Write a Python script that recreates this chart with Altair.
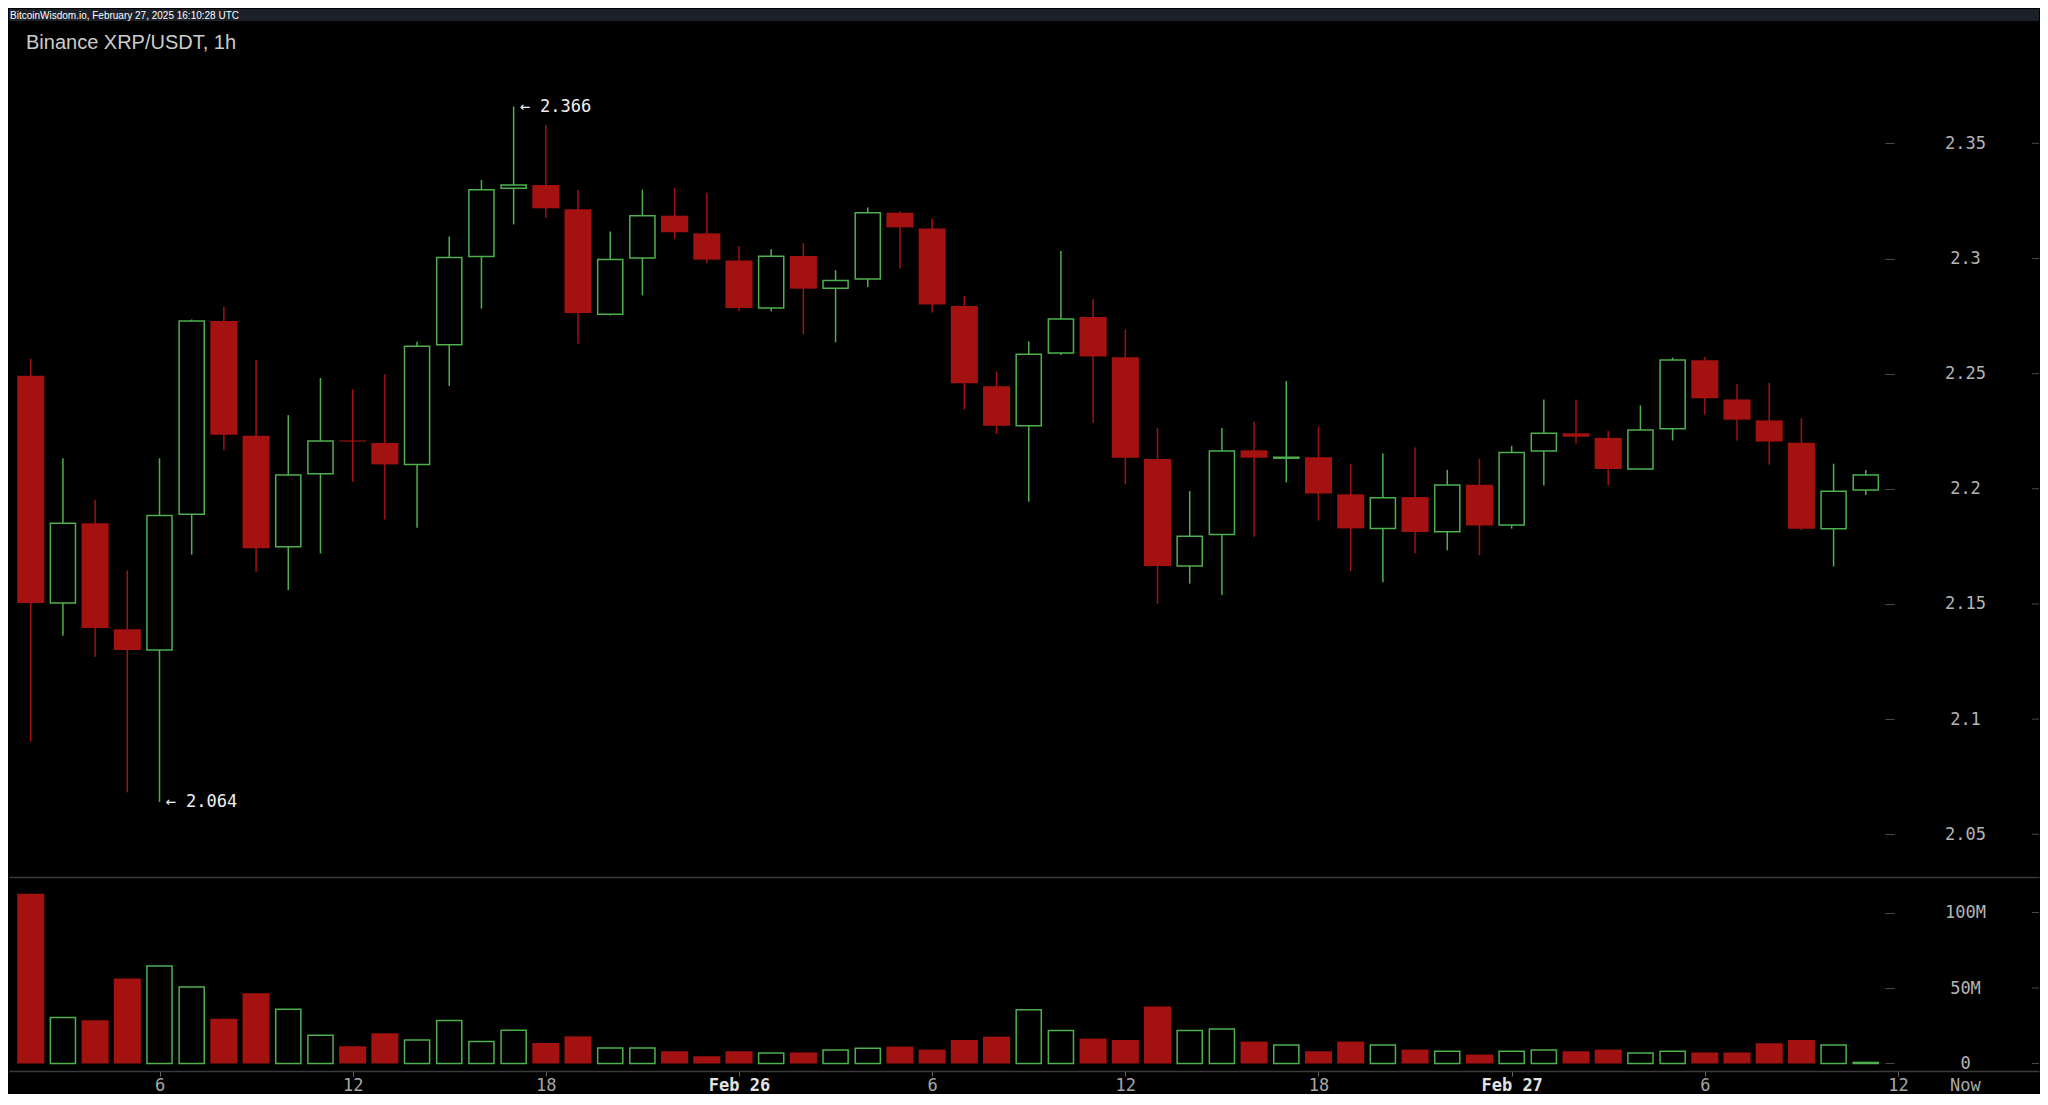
import altair as alt
import pandas as pd

# ---------------- data ----------------
# hour index counted from Feb 25 00:00, one candle per hour
hours = list(range(2, 60))

opens = [2.2491, 2.1504, 2.1850, 2.1390, 2.1300, 2.1889, 2.2729, 2.2230, 2.1748, 2.2065,
         2.2210, 2.2199, 2.2106, 2.2626, 2.3009, 2.3305, 2.3319, 2.3214, 2.2758, 2.3002,
         2.3186, 2.3109, 2.2991, 2.2785, 2.3011, 2.2871, 2.2911, 2.3199, 2.3130, 2.2794,
         2.2445, 2.2274, 2.2590, 2.2746, 2.2571, 2.2129, 2.1665, 2.1801, 2.2167, 2.2133,
         2.2137, 2.1976, 2.1828, 2.1964, 2.1814, 2.2018, 2.1843, 2.2164, 2.2241, 2.2221,
         2.2086, 2.2261, 2.2558, 2.2388, 2.2297, 2.2200, 2.1827, 2.1995]
highs = [2.2564, 2.2133, 2.1952, 2.1646, 2.2133, 2.2735, 2.2791, 2.2559, 2.2320, 2.2481,
         2.2432, 2.2497, 2.2639, 2.3096, 2.3341, 2.3660, 2.3579, 2.3298, 2.3117, 2.3299,
         2.3306, 2.3285, 2.3053, 2.3040, 2.3067, 2.2949, 2.3221, 2.3206, 2.3173, 2.2837,
         2.2509, 2.2640, 2.3033, 2.2823, 2.2691, 2.2263, 2.1990, 2.2264, 2.2292, 2.2468,
         2.2270, 2.2109, 2.2153, 2.2179, 2.2082, 2.2131, 2.2187, 2.2388, 2.2388, 2.2251,
         2.2362, 2.2570, 2.2572, 2.2454, 2.2459, 2.2307, 2.2109, 2.2082]
lows = [2.0903, 2.1362, 2.1271, 2.0682, 2.0640, 2.1714, 2.2167, 2.1640, 2.1560, 2.1719,
        2.2030, 2.1867, 2.1831, 2.2446, 2.2782, 2.3148, 2.3177, 2.2630, 2.2752, 2.2840,
        2.3086, 2.2979, 2.2771, 2.2771, 2.2672, 2.2636, 2.2876, 2.2957, 2.2765, 2.2344,
        2.2238, 2.1944, 2.2581, 2.2287, 2.2019, 2.1501, 2.1588, 2.1539, 2.1792, 2.2028,
        2.1862, 2.1643, 2.1594, 2.1720, 2.1733, 2.1712, 2.1827, 2.2014, 2.2197, 2.2015,
        2.2084, 2.2210, 2.2323, 2.2210, 2.2105, 2.1820, 2.1663, 2.1973]
closes = [2.1504, 2.1850, 2.1396, 2.1300, 2.1884, 2.2729, 2.2235, 2.1742, 2.2060, 2.2207,
          2.2205, 2.2106, 2.2619, 2.3004, 2.3298, 2.3319, 2.3218, 2.2763, 2.2996, 2.3186,
          2.3114, 2.2995, 2.2785, 2.3010, 2.2869, 2.2905, 2.3199, 2.3135, 2.2800, 2.2458,
          2.2274, 2.2584, 2.2737, 2.2575, 2.2135, 2.1665, 2.1794, 2.2164, 2.2135, 2.2137,
          2.1980, 2.1828, 2.1961, 2.1812, 2.2016, 2.1841, 2.2158, 2.2241, 2.2226, 2.2086,
          2.2255, 2.2559, 2.2393, 2.2300, 2.2205, 2.1827, 2.1989, 2.2060]
volumes_m = [112.4, 30.4, 28.6, 56.3, 64.5, 50.6, 29.7, 46.6, 35.9, 18.7,
             11.4, 20.0, 15.6, 28.4, 14.5, 22.0, 13.6, 18.0, 10.3, 10.3,
             8.1, 4.8, 8.1, 7.0, 7.3, 9.0, 10.1, 11.2, 9.2, 15.6,
             17.8, 35.6, 21.8, 16.5, 15.6, 37.8, 21.8, 22.9, 14.5, 12.3,
             8.1, 14.5, 12.3, 9.2, 8.1, 5.9, 8.1, 9.0, 8.1, 9.2,
             7.0, 8.1, 7.3, 7.3, 13.4, 15.6, 12.3, 0.7]

price_ticks = [2.05, 2.1, 2.15, 2.2, 2.25, 2.3, 2.35]
volume_ticks = [0, 50e6, 100e6]
x_tick_hours = [6, 12, 18, 24, 30, 36, 42, 48, 54, 60]
now_hour = 62.08

HEADER = "BitcoinWisdom.io, February 27, 2025 16:10:28 UTC"
TITLE = "Binance XRP/USDT, 1h"

# ---------------- styling ----------------
RED = "#a31111"
GREEN = "#4db04d"
LABEL = "#b4b4b4"
TICK = "#4a4a4a"
SEP = "#3a3a3a"
MONO = "DejaVu Sans Mono"

W = 2030
PH = 868
VH = 192
PX_PER_HOUR = 32.194
X0 = 1.3252

df = pd.DataFrame({"h": hours, "open": opens, "high": highs, "low": lows,
                   "close": closes, "volume": [v * 1e6 for v in volumes_m]})
df["dir"] = ["up" if c >= o else "down" for o, c in zip(df["open"], df["close"])]
df["top"] = df[["open", "close"]].max(axis=1)
df["bot"] = df[["open", "close"]].min(axis=1)
df["zero"] = 0.0

x_scale = alt.Scale(domain=[X0, X0 + W / PX_PER_HOUR], nice=False, zero=False)
price_scale = alt.Scale(domain=[2.03143, 2.40834], nice=False, zero=False)
vol_scale = alt.Scale(domain=[-4.97e6, 122.19e6], nice=False, zero=False)

y_axis_common = dict(orient="right", offset=1876 - W, tickSize=9, tickColor=TICK,
                     tickWidth=1, labelPadding=71, labelAlign="center",
                     labelBaseline="middle", labelFont=MONO, labelFontSize=17,
                     labelColor=LABEL, domain=False, grid=False, title=None)
price_y_axis = alt.Axis(values=price_ticks, format=".3~f", **y_axis_common)
vol_y_axis = alt.Axis(values=volume_ticks,
                      labelExpr="datum.value == 0 ? '0' : format(datum.value / 1e6, 'd') + 'M'",
                      **y_axis_common)

price_x_axis = alt.Axis(labels=False, ticks=False, domain=True, domainColor=SEP,
                        domainWidth=1.5, grid=False, title=None)
is_day = "datum.value == 24 || datum.value == 48"
vol_x_axis = alt.Axis(
    values=x_tick_hours + [now_hour],
    labelExpr="datum.value > 61 ? 'Now' : (datum.value == 24 ? 'Feb 26' : "
              "(datum.value == 48 ? 'Feb 27' : toString(datum.value % 24)))",
    tickSize=5, tickColor={"condition": {"test": "datum.value > 61", "value": "transparent"},
                           "value": "#666666"},
    labelPadding=1, labelFont=MONO, labelFontSize=17,
    labelColor={"condition": {"test": is_day, "value": "#e2e2e2"}, "value": "#a8a8a8"},
    labelFontWeight={"condition": {"test": is_day, "value": "bold"}, "value": "normal"},
    labelFlush=False, labelOverlap=False, domainColor=SEP, domainWidth=1.5,
    grid=False, title=None)

base = alt.Chart(df)
one = pd.DataFrame({"t": [HEADER], "title": [TITLE]})

# ---------------- price panel ----------------
strip = alt.Chart(one).mark_rect(color="#1c2029").encode(
    x=alt.value(0), x2=alt.value(W), y=alt.value(0), y2=alt.value(12))
header = alt.Chart(one).mark_text(align="left", baseline="alphabetic", font="Liberation Sans",
                                  fontSize=10, color="#ffffff").encode(
    x=alt.value(1), y=alt.value(9.5), text="t:N")
title = alt.Chart(one).mark_text(align="left", baseline="alphabetic", font="Liberation Sans",
                                 fontSize=20, color="#cccccc").encode(
    x=alt.value(17), y=alt.value(40), text="title:N")

wicks = base.mark_rule(strokeWidth=1.5).encode(
    x=alt.X("h:Q", scale=x_scale, axis=price_x_axis),
    y=alt.Y("low:Q", scale=price_scale, axis=price_y_axis),
    y2="high:Q",
    color=alt.Color("dir:N", scale=alt.Scale(domain=["up", "down"], range=[GREEN, RED]),
                    legend=None))

down_bodies = base.transform_filter("datum.dir == 'down'").transform_calculate(
    x1="datum.h - 0.42", x2="datum.h + 0.42").mark_rect(color=RED).encode(
    x=alt.X("x1:Q", scale=x_scale, axis=price_x_axis),
    x2="x2:Q",
    y=alt.Y("top:Q", scale=price_scale, axis=price_y_axis),
    y2="bot:Q")

up_bodies = base.transform_filter("datum.dir == 'up'").transform_calculate(
    x1="datum.h - 0.39", x2="datum.h + 0.39").mark_rect(
    fill="#000000", stroke=GREEN, strokeWidth=1.5).encode(
    x=alt.X("x1:Q", scale=x_scale, axis=price_x_axis),
    x2="x2:Q",
    y=alt.Y("top:Q", scale=price_scale, axis=price_y_axis),
    y2="bot:Q")

hi_i = int(df["high"].idxmax())
lo_i = int(df["low"].idxmin())
annot_df = pd.DataFrame({
    "h": [df.loc[hi_i, "h"], df.loc[lo_i, "h"]],
    "p": [df.loc[hi_i, "high"], df.loc[lo_i, "low"]],
    "label": ["\u2190 %.3f" % df.loc[hi_i, "high"], "\u2190 %.3f" % df.loc[lo_i, "low"]],
})
annots = alt.Chart(annot_df).mark_text(align="left", baseline="middle", dx=6, font=MONO,
                                       fontSize=17, color="#f0f0f0").encode(
    x=alt.X("h:Q", scale=x_scale, axis=price_x_axis),
    y=alt.Y("p:Q", scale=price_scale, axis=price_y_axis),
    text="label:N")

price_edge = alt.Chart(pd.DataFrame({"p": price_ticks})).mark_rule(
    color=TICK, strokeWidth=1).encode(
    x=alt.value(W - 7), x2=alt.value(W),
    y=alt.Y("p:Q", scale=price_scale, axis=price_y_axis))

price = alt.layer(strip, header, title, wicks, down_bodies, up_bodies, annots,
                  price_edge).properties(width=W, height=PH)

# ---------------- volume panel ----------------
vol_down = base.transform_filter("datum.dir == 'down'").transform_calculate(
    x1="datum.h - 0.42", x2="datum.h + 0.42").mark_rect(color=RED).encode(
    x=alt.X("x1:Q", scale=x_scale, axis=vol_x_axis),
    x2="x2:Q",
    y=alt.Y("volume:Q", scale=vol_scale, axis=vol_y_axis),
    y2="zero:Q")

vol_up = base.transform_filter("datum.dir == 'up'").transform_calculate(
    x1="datum.h - 0.39", x2="datum.h + 0.39").mark_rect(
    fill="#000000", stroke=GREEN, strokeWidth=1.5).encode(
    x=alt.X("x1:Q", scale=x_scale, axis=vol_x_axis),
    x2="x2:Q",
    y=alt.Y("volume:Q", scale=vol_scale, axis=vol_y_axis),
    y2="zero:Q")

vol_edge = alt.Chart(pd.DataFrame({"v": volume_ticks})).mark_rule(
    color=TICK, strokeWidth=1).encode(
    x=alt.value(W - 7), x2=alt.value(W),
    y=alt.Y("v:Q", scale=vol_scale, axis=vol_y_axis))

volume = alt.layer(vol_down, vol_up, vol_edge).properties(width=W, height=VH)

chart = alt.vconcat(price, volume, spacing=0).properties(
    padding=0, background="#000000"
).configure_view(stroke="transparent")

chart.save("out.html", embed_options={"renderer": "svg", "actions": False})
